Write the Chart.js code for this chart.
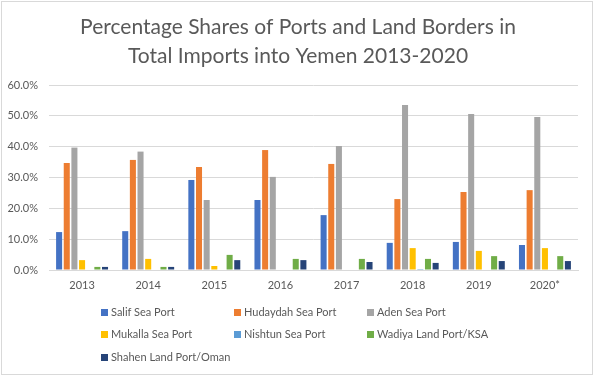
<!DOCTYPE html>
<html>
<head>
<meta charset="utf-8">
<script src="https://cdn.jsdelivr.net/npm/chart.js@4.4.1/dist/chart.umd.min.js"></script>
<style>
  html, body { margin: 0; padding: 0; background: #ffffff; }
  #wrap { position: relative; width: 599px; height: 383px; overflow: hidden; }
  canvas { position: absolute; left: 0; top: 0; }
  .leg { position: absolute; font-family: Lato, "Open Sans", sans-serif; font-size: 11px; color: #595959; white-space: nowrap; line-height: 14px; }
  .leg span.sw { display: inline-block; width: 7px; height: 7px; margin-right: 3px; vertical-align: 0px; }
</style>
</head>
<body>
<div id="wrap">
  <canvas id="c" width="599" height="383"></canvas>
</div>
<script>
const titleLines = ["Percentage Shares of Ports and Land Borders in", "Total Imports into Yemen 2013-2020"];
const years = ["2013", "2014", "2015", "2016", "2017", "2018", "2019", "2020*"];
const yTicks = [0, 10, 20, 30, 40, 50, 60];

const seriesNames = ["Salif Sea Port", "Hudaydah Sea Port", "Aden Sea Port", "Mukalla Sea Port", "Nishtun Sea Port", "Wadiya Land Port/KSA", "Shahen Land Port/Oman"];
const salif    = [12.3, 12.6, 29.2, 22.7, 17.8, 8.8, 9.1, 8.1];
const hudaydah = [34.7, 35.7, 33.4, 38.9, 34.4, 23.0, 25.3, 25.9];
const aden     = [39.7, 38.4, 22.7, 30.2, 40.2, 53.5, 50.6, 49.6];
const mukalla  = [3.2, 3.6, 1.3, 0, 0, 7.1, 6.2, 7.1];
const nishtun  = [0, 0, 0, 0, 0, 0.3, 0, 0];
const wadiya   = [1.0, 1.0, 4.9, 3.6, 3.6, 3.6, 4.5, 4.5];
const shahen   = [1.0, 1.0, 3.2, 3.2, 2.6, 2.3, 2.9, 2.9];
const seriesColors = ["#4472C4", "#ED7D31", "#A5A5A5", "#FFC000", "#5B9BD5", "#70AD47", "#264478"];

const seriesData = [salif, hudaydah, aden, mukalla, nishtun, wadiya, shahen];

const textColor = "#595959";
const gridColor = "#d9d9d9";
const fontFamily = "Lato, 'Open Sans', sans-serif";

const decorPlugin = {
  id: "decor",
  beforeDraw(chart) {
    const ctx = chart.ctx;
    ctx.save();
    ctx.fillStyle = "#ffffff";
    ctx.fillRect(0, 0, chart.width, chart.height);
    ctx.strokeStyle = "#d9d9d9";
    ctx.lineWidth = 1;
    ctx.strokeRect(1.5, 1.5, 591, 373);
    ctx.fillStyle = textColor;
    ctx.font = "21px " + fontFamily;
    ctx.textAlign = "center";
    ctx.textBaseline = "middle";
    ctx.fillText(titleLines[0], 298, 27);
    ctx.fillText(titleLines[1], 298, 56);
    ctx.restore();
  }
};

new Chart(document.getElementById("c"), {
  type: "bar",
  data: {
    labels: years,
    datasets: seriesNames.map((n, i) => ({
      label: n,
      data: seriesData[i],
      backgroundColor: seriesColors[i],
      borderWidth: 0,
      categoryPercentage: 0.81,
      barPercentage: 0.79
    }))
  },
  options: {
    responsive: false,
    animation: false,
    devicePixelRatio: 1,
    layout: { padding: { left: 0, right: 21, top: 85, bottom: 0 } },
    plugins: {
      legend: { display: false },
      title: { display: false },
      tooltip: { enabled: false }
    },
    scales: {
      x: {
        grid: { display: false, drawTicks: false },
        border: { display: true, color: gridColor, width: 1 },
        ticks: { color: textColor, font: { family: fontFamily, size: 11 }, padding: 9, maxRotation: 0 },
        afterFit(scale) { scale.height = 113; }
      },
      y: {
        min: 0, max: 60,
        afterBuildTicks(scale) { scale.ticks = yTicks.map(v => ({ value: v })); },
        grid: { color: gridColor, drawTicks: false },
        border: { display: false },
        ticks: {
          color: textColor, font: { family: fontFamily, size: 11 }, padding: 11,
          callback: v => v.toFixed(1) + "%"
        },
        afterFit(scale) { scale.width = 49; }
      }
    }
  },
  plugins: [decorPlugin]
});

// HTML legend in a 3-column grid
const wrap = document.getElementById("wrap");
const colX = [101, 234, 367];
const rowY = [305, 327, 350];
seriesNames.forEach((n, i) => {
  const d = document.createElement("div");
  d.className = "leg";
  d.style.left = colX[i % 3] + "px";
  d.style.top = rowY[Math.floor(i / 3)] + "px";
  const sw = document.createElement("span");
  sw.className = "sw";
  sw.style.background = seriesColors[i];
  d.appendChild(sw);
  d.appendChild(document.createTextNode(n));
  wrap.appendChild(d);
});
</script>
</body>
</html>
